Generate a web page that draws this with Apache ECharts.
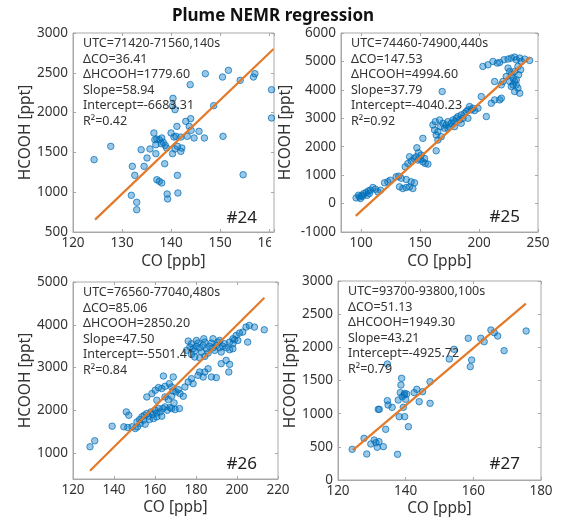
<!DOCTYPE html>
<html><head><meta charset="utf-8">
<script src="https://cdn.jsdelivr.net/npm/echarts@6/dist/echarts.min.js"></script>
<style>html,body{margin:0;padding:0;background:#fff}#c{width:562px;height:521px}</style>
</head><body><div id="c"></div>
<script>
// ---------------- data ----------------
const chartTitle = 'Plume NEMR regression';
const xAxisTitle = 'CO [ppb]';
const yAxisTitle = 'HCOOH [ppt]';
const panelTags = ['#24', '#25', '#26', '#27'];

const co24 = [124.3,127.7,131.9,132.6,132.1,133.0,133.0,133.9,134.5,135.1,135.7,136.5,136.7,136.9,137.1,137.6,138.1,138.7,139.2,139.3,141.4,141.3,137.1,137.6,138.1,138.4,138.8,139.1,138.0,136.9,140.4,140.3,140.8,140.3,140.8,141.3,140.0,140.6,141.0,142.0,142.2,142.0,141.2,143.0,143.7,144.0,144.1,143.3,144.7,145.7,146.8,143.9,147.0,148.7,150.5,151.7,150.6,154.1,154.7,156.8,157.1,160.5,160.5];
const hcooh24 = [1409,1576,961,1212,1325,873,780,1534,1325,1430,1543,1744,1660,1484,1157,1137,1116,1358,977,915,990,1212,1668,1660,1681,1627,1589,1555,1610,1597,2179,2087,2037,1484,1543,1576,1744,1693,1702,1693,1555,1513,1827,1890,1827,1924,1777,1702,1681,1765,1681,2351,2489,2087,2447,2531,1702,2405,1220,2447,2489,2288,1932];
const fitCO24 = [124.5, 160.9];
const fitHCOOH24 = [655, 2800];
const notes24 = ['UTC=71420-71560,140s', 'ΔCO=36.41', 'ΔHCOOH=1779.60', 'Slope=58.94', 'Intercept=-6683.31', 'R²=0.42'];

const co25 = [95.8,98.7,100.6,102.3,104.3,106.3,108.0,110.0,112.2,114.2,116.5,97.8,99.5,101.5,105.2,107.1,
  119.9,122.7,124.7,129.8,132.0,134.0,138.3,132.6,135.4,138.3,141.1,143.9,145.3,142.5,
  137.4,139.7,142.5,144.8,146.8,148.2,150.4,152.4,154.4,156.7,153.8,151.0,148.7,147.3,141.1,152.4,163.7,
  160.9,162.3,163.7,165.1,167.4,169.4,170.8,172.2,173.6,175.0,176.5,177.9,179.3,180.7,182.1,183.5,184.9,186.4,187.8,189.2,190.6,192.0,193.4,194.8,196.3,199.1,165.1,168.0,162.9,166.6,173.6,179.3,184.9,190.6,
  168.8,201.9,206.2,210.4,213.2,217.5,218.9,207.6,211.8,215.5,217.5,221.2,224.6,227.4,230.2,231.6,234.5,235.9,238.7,242.9,
  224.6,226.0,227.4,228.8,230.2,231.6,233.0,234.5,230.2,227.4,226.0,228.8,231.6,233.6,235.3,233.0,230.2,223.1,220.3,218.9,213.2,203.3];
const hcooh25 = [200,235,294,353,388,447,470,565,506,412,470,294,176,259,294,353,
  730,765,823,941,965,894,847,588,529,565,588,529,730,765,
  1294,1412,1494,1588,1647,1530,1553,1470,1412,1388,1588,1706,1788,1965,1647,2294,1858,
  2765,2588,2412,2530,2706,2824,2647,2765,2882,2706,2824,2941,2882,3000,3059,2941,3118,3000,3176,3235,3294,3412,3294,3353,3271,3353,2235,2353,2882,2941,2647,2706,2824,3000,
  3941,3765,3059,3529,3647,3647,3706,4882,5000,4941,4965,5059,5082,5118,5153,5059,5118,5000,5082,5035,
  4765,4647,4530,4412,4294,4176,4059,3882,3941,4118,4294,4176,4353,4530,4706,4824,4647,4471,4294,4176,4294,4824];
const fitCO25 = [95.5, 243.0];
const fitHCOOH25 = [-431, 5143];
const notes25 = ['UTC=74460-74900,440s', 'ΔCO=147.53', 'ΔHCOOH=4994.60', 'Slope=37.79', 'Intercept=-4040.23', 'R²=0.92'];

const co26 = [128.3,130.6,139.1,146.0,147.2,144.8,146.7,148.8,150.4,151.5,151.2,152.5,153.6,154.8,156.0,156.9,158.0,159.0,160.1,160.9,161.7,162.5,163.8,164.9,166.0,167.3,168.1,169.8,171.9,154.4,157.3,159.3,160.9,163.3,152.8,155.2,
  156.0,158.5,160.1,161.7,163.3,164.9,167.0,168.1,168.9,170.2,171.4,172.2,173.8,160.9,164.9,166.5,168.1,169.3,164.1,168.9,
  174.6,176.2,177.8,178.6,181.0,181.8,183.5,184.3,185.9,187.5,189.9,192.3,194.7,196.0,
  177.0,177.8,178.6,179.4,180.2,181.0,181.8,182.7,183.5,184.3,185.1,185.9,186.7,187.5,188.3,189.1,189.9,190.7,191.5,192.3,193.1,194.0,194.8,196.4,198.0,179.4,181.8,184.3,177.8,175.4,176.2,180.2,183.8,188.3,191.5,
  198.0,199.6,201.2,202.8,204.4,206.0,208.5,205.2,196.4,213.3,198.0,198.8,200.4,196.4];
const hcooh26 = [1152,1292,1633,1967,1889,1618,1602,1618,1579,1618,1734,1788,1851,1889,1928,1866,1967,1913,2006,1944,2045,1967,2045,2083,2006,2068,2045,2021,2045,1773,1788,1812,1851,1866,1695,1680,
  2316,2394,2472,2534,2511,2565,2627,2549,2456,2433,2487,2394,2332,2239,2316,2254,2332,2177,2805,2782,
  2549,2666,2743,2627,2821,2899,2782,2899,2976,2782,2767,3093,3170,2899,
  3481,3558,3442,3388,3497,3574,3465,3365,3520,3597,3442,3341,3497,3574,3465,3403,3520,3597,3465,3365,3497,3558,3465,3419,3442,3248,3232,3263,3310,3403,3621,3636,3675,3675,3636,
  3675,3752,3807,3830,3947,3985,3947,3597,3077,3884,3558,3652,3636,3597];
const fitCO26 = [128.3, 213.36];
const fitHCOOH26 = [593, 4633];
const notes26 = ['UTC=76560-77040,480s', 'ΔCO=85.06', 'ΔHCOOH=2850.20', 'Slope=47.50', 'Intercept=-5501.41', 'R²=0.84'];

const co27 = [124.2,127.7,128.5,129.7,130.7,131.2,131.6,132.1,131.9,132.2,133.4,134.1,134.6,134.8,134.6,136.0,137.6,137.8,138.1,138.4,138.6,138.8,139.0,139.3,139.5,139.7,139.7,140.0,140.3,140.8,142.5,143.3,144.0,145.0,147.2,147.2,152.9,154.3,158.5,159.1,159.5,162.2,163.2,165.2,166.2,167.2,169.1,175.6];
const hcooh27 = [462,628,392,543,603,563,493,578,1065,1065,503,764,1196,1131,1749,1095,387,1206,955,1317,1432,1533,1256,1095,1281,955,1306,1216,1296,804,1317,1367,1181,1332,1482,1156,1824,1970,2136,1709,1809,2136,2086,2261,2221,2171,1950,2246];
const fitCO27 = [124.4, 175.53];
const fitHCOOH27 = [450, 2659];
const notes27 = ['UTC=93700-93800,100s', 'ΔCO=51.13', 'ΔHCOOH=1949.30', 'Slope=43.21', 'Intercept=-4925.72', 'R²=0.79'];

// ---------------- layout / style ----------------
const FONT = "'Noto Sans', 'Open Sans', sans-serif";
const BORDER = '#a8a8a8';
const TXT = '#333333';
const PT_FILL = 'rgba(0,114,189,0.5)';
const PT_EDGE = 'rgba(0,110,185,0.9)';
const LINE_C = '#E27A2A';

const panels = [
  { grid: {left: 73, top: 33, width: 201, height: 199},
    x: {min: 120, max: 161, interval: 10, step: 10}, y: {min: 500, max: 3000, interval: 500, step: 500},
    co: co24, h: hcooh24, fx: fitCO24, fy: fitHCOOH24, notes: notes24, tagPos: [257, 218], yGap: 38.5, xGap: 21.5 },
  { grid: {left: 341, top: 33, width: 197, height: 199},
    x: {min: 83, max: 250, split: 4, step: 50}, y: {min: -1000, max: 6000, interval: 1000, step: 1000},
    co: co25, h: hcooh25, fx: fitCO25, fy: fitHCOOH25, notes: notes25, tagPos: [520, 217], yGap: 47.5, xGap: 21.5 },
  { grid: {left: 73, top: 282, width: 205, height: 197},
    x: {min: 120, max: 220, interval: 20, step: 20}, y: {min: 400, max: 5000, split: 5, step: 1000},
    co: co26, h: hcooh26, fx: fitCO26, fy: fitHCOOH26, notes: notes26, tagPos: [257, 464], yGap: 38.5, xGap: 20.5 },
  { grid: {left: 338, top: 281, width: 203, height: 199},
    x: {min: 120, max: 180, interval: 20, step: 20}, y: {min: 0, max: 3000, interval: 500, step: 500},
    co: co27, h: hcooh27, fx: fitCO27, fy: fitHCOOH27, notes: notes27, tagPos: [520, 464], yGap: 37.5, xGap: 20.5 }
];

function labelOf(v, step) {
  const r = v / step;
  return Math.abs(r - Math.round(r)) < 1e-6 ? String(Math.round(v)) : '';
}

function makeAxis(dim, i, p, pos) {
  const a = dim === 'x' ? p.x : p.y;
  const main = (pos === 'bottom' || pos === 'left');
  const ax = {
    type: 'value', gridIndex: i, position: pos, min: a.min, max: a.max, scale: true,
    axisLine: {show: main, onZero: false, lineStyle: {color: BORDER, width: 1}},
    axisTick: {show: true, inside: true, length: 3, lineStyle: {color: BORDER, width: 1}},
    axisLabel: {show: main, color: TXT, fontSize: 13.5, fontFamily: FONT,
      margin: dim === 'x' ? 4 : 5, formatter: v => labelOf(v, a.step)},
    splitLine: {show: false}
  };
  if (a.interval !== undefined) ax.interval = a.interval; else ax.splitNumber = a.split;
  if (main) {
    ax.name = dim === 'x' ? xAxisTitle : yAxisTitle;
    ax.nameLocation = 'middle';
    ax.nameGap = dim === 'x' ? p.xGap : p.yGap;
    ax.nameTextStyle = {color: TXT, fontSize: 15.5, fontFamily: FONT};
  }
  return ax;
}

const grids = [], xAxes = [], yAxes = [], series = [], graphics = [];
panels.forEach((p, i) => {
  grids.push(Object.assign({show: true, borderColor: BORDER, borderWidth: 1, backgroundColor: 'transparent', containLabel: false}, p.grid));
  xAxes[i] = makeAxis('x', i, p, 'bottom');
  yAxes[i] = makeAxis('y', i, p, 'left');
  xAxes[i + 4] = makeAxis('x', i, p, 'top');
  yAxes[i + 4] = makeAxis('y', i, p, 'right');
  series.push({
    type: 'scatter', xAxisIndex: i, yAxisIndex: i, symbol: 'circle', symbolSize: 6.5,
    itemStyle: {color: PT_FILL, borderColor: PT_EDGE, borderWidth: 1},
    data: p.co.map((c, k) => [c, p.h[k]]), z: 2, clip: false, silent: true
  });
  series.push({
    type: 'line', xAxisIndex: i, yAxisIndex: i, symbol: 'none',
    lineStyle: {color: LINE_C, width: 2.2},
    data: p.fx.map((c, k) => [c, p.fy[k]]), z: 3, silent: true
  });
  p.notes.forEach((t, k) => {
    graphics.push({type: 'text', z: 100, x: p.grid.left + 10, y: p.grid.top + 10.5 + k * 15.6,
      style: {text: t, fill: TXT, fontSize: 12.5, fontFamily: FONT, align: 'left', verticalAlign: 'middle'}});
  });
  graphics.push({type: 'text', z: 100, x: p.tagPos[0], y: p.tagPos[1],
    style: {text: panelTags[i], fill: '#222', fontSize: 17, fontFamily: FONT, align: 'right', verticalAlign: 'middle'}});
});
// crop of the first panel's last tick label, as in the source figure
graphics.push({type: 'rect', z: 100, shape: {x: 271, y: 236, width: 10, height: 18}, style: {fill: '#fff'}});

const chart = echarts.init(document.getElementById('c'), null, {renderer: 'canvas'});
chart.setOption({
  animation: false,
  backgroundColor: '#fff',
  title: {text: chartTitle, left: 268, top: 3, textAlign: 'center',
    textStyle: {fontSize: 17, fontWeight: 'bold', color: '#111', fontFamily: FONT}},
  grid: grids, xAxis: xAxes, yAxis: yAxes, series: series, graphic: graphics
});
</script></body></html>
